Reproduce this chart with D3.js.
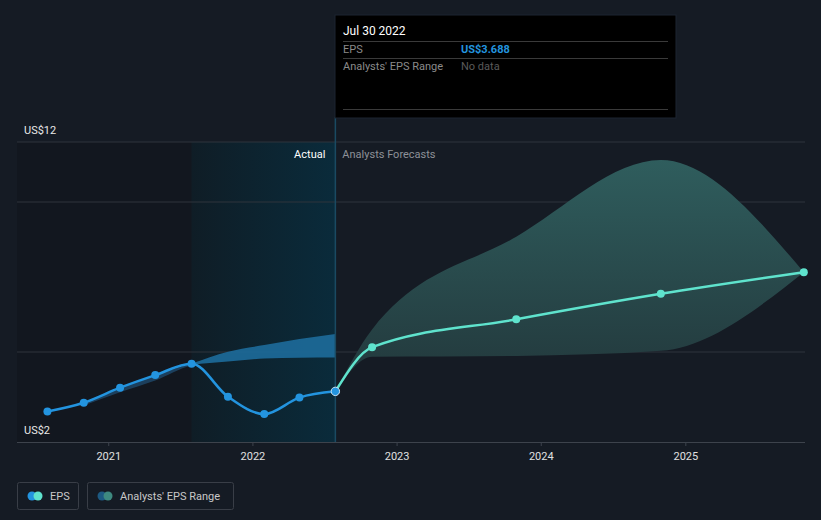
<!DOCTYPE html>
<html>
<head>
<meta charset="utf-8">
<script src="https://cdn.jsdelivr.net/npm/d3@7"></script>
<style>
  body { margin: 0; background: #151b24; }
  svg { display: block; font-family: Roboto, "Noto Sans", sans-serif; }
</style>
</head>
<body>
<div id="chart"></div>
<script>
// actual EPS (quarterly, trailing)
var actualDates = ["2020-07-31","2020-10-31","2021-01-31","2021-04-30","2021-07-31","2021-10-31","2022-01-31","2022-04-30","2022-07-30"];
var actualEps   = [3.02, 3.31, 3.81, 4.23, 4.61, 3.51, 2.93, 3.48, 3.688];

// past analyst range
var pastRangeDates = ["2020-10-31","2021-01-31","2021-04-30","2021-07-31","2021-10-31","2022-01-31","2022-04-30","2022-07-30"];
var pastRangeLow   = [3.22, 3.66, 4.05, 4.55, 4.68, 4.78, 4.81, 4.82];
var pastRangeHigh  = [3.31, 3.81, 4.23, 4.62, 5.01, 5.23, 5.43, 5.60];

// analyst forecasts
var fcDates = ["2022-07-30","2022-10-31","2023-10-31","2024-10-31","2025-10-28"];
var fcEps   = [3.688, 5.16, 6.09, 6.94, 7.66];
var fcLow   = [3.688, 4.84, 4.87, 5.04, 7.66];
var fcHigh  = [3.688, 5.75, 8.84, 11.4, 7.66];

var yTickLabels = [{v: 12, t: "US$12"}, {v: 2, t: "US$2"}];
var gridValues = [12, 10, 5];
var yearTicks = ["2021-01-01","2022-01-01","2023-01-01","2024-01-01","2025-01-01"];

var W = 821, H = 520;
var parse = d3.timeParse("%Y-%m-%d");

var x = d3.scaleTime()
  .domain([parse("2020-05-15"), parse("2025-10-31")])
  .range([17, 805]);
var y = d3.scaleLinear().domain([2, 12]).range([442, 142]);

var svg = d3.select("#chart").append("svg")
  .attr("width", W).attr("height", H);

svg.append("rect").attr("width", W).attr("height", H).attr("fill", "#151b24");

var defs = svg.append("defs");
var hl = defs.append("linearGradient").attr("id", "hl").attr("x1", 0).attr("x2", 1).attr("y1", 0).attr("y2", 0);
hl.append("stop").attr("offset", "0%").attr("stop-color", "#0f1d26");
hl.append("stop").attr("offset", "100%").attr("stop-color", "#0a2b3b");

var fg = defs.append("linearGradient").attr("id", "fg").attr("x1", 0).attr("x2", 0).attr("y1", 0).attr("y2", 1);
fg.append("stop").attr("offset", "0%").attr("stop-color", "#2f5d5d");
fg.append("stop").attr("offset", "100%").attr("stop-color", "#22373b");

var lastActual = parse(actualDates[actualDates.length - 1]);
var yearBack = parse("2021-07-31");

// dark past region + highlighted last year
svg.append("rect")
  .attr("x", x.range()[0]).attr("y", y(12))
  .attr("width", x(yearBack) - x.range()[0]).attr("height", y(2) - y(12))
  .attr("fill", "#12171f");
svg.append("rect")
  .attr("x", x(yearBack)).attr("y", y(12))
  .attr("width", x(lastActual) - x(yearBack)).attr("height", y(2) - y(12))
  .attr("fill", "url(#hl)");

defs.append("clipPath").attr("id", "hlclip").append("rect")
  .attr("x", x(yearBack)).attr("y", 0)
  .attr("width", x(lastActual) - x(yearBack)).attr("height", H);
defs.append("clipPath").attr("id", "oldclip").append("rect")
  .attr("x", 0).attr("y", 0)
  .attr("width", x(yearBack)).attr("height", H);

// grid
svg.selectAll(".grid").data(gridValues).enter().append("line")
  .attr("x1", 17).attr("x2", 805)
  .attr("y1", function(d){ return y(d); }).attr("y2", function(d){ return y(d); })
  .attr("stroke", "#2e343d").attr("stroke-width", 1);

// past range band
var pastRange = pastRangeDates.map(function(d, i){ return {d: parse(d), lo: pastRangeLow[i], hi: pastRangeHigh[i]}; });
var bandArea = d3.area().curve(d3.curveMonotoneX)
  .x(function(d){ return x(d.d); })
  .y0(function(d){ return y(d.lo); })
  .y1(function(d){ return y(d.hi); });
svg.append("path").datum(pastRange).attr("d", bandArea)
  .attr("fill", "#1f4a6b").attr("opacity", 0.8).attr("clip-path", "url(#oldclip)");
svg.append("path").datum(pastRange).attr("d", bandArea)
  .attr("fill", "#1d6b9b").attr("opacity", 0.9).attr("clip-path", "url(#hlclip)");

// forecast band
var fc = fcDates.map(function(d, i){ return {d: parse(d), v: fcEps[i], lo: fcLow[i], hi: fcHigh[i]}; });
svg.append("path").datum(fc)
  .attr("d", d3.area().curve(d3.curveMonotoneX)
    .x(function(d){ return x(d.d); })
    .y0(function(d){ return y(d.lo); })
    .y1(function(d){ return y(d.hi); }))
  .attr("fill", "url(#fg)");

// vertical marker
svg.append("line")
  .attr("x1", x(lastActual)).attr("x2", x(lastActual))
  .attr("y1", 117).attr("y2", 442)
  .attr("stroke", "#1a4a62").attr("stroke-width", 1.5);

// x axis
var xAxis = d3.axisBottom(x)
  .tickValues(yearTicks.map(parse))
  .tickFormat(d3.timeFormat("%Y"))
  .tickSize(4).tickPadding(6);
var gx = svg.append("g").attr("transform", "translate(0,442)").call(xAxis);
gx.select(".domain").attr("stroke", "#3d434c").attr("d", "M17,0.5H805");
gx.selectAll(".tick line").attr("stroke", "#3d434c");
gx.selectAll("text").attr("fill", "#e0e0e0").attr("font-size", 11)
  .attr("font-family", "Roboto, sans-serif");

// y labels
svg.selectAll(".ylab").data(yTickLabels).enter().append("text")
  .attr("x", 24).attr("y", function(d){ return y(d.v) - 8; })
  .attr("fill", "#e8e8e8").attr("font-size", 11)
  .text(function(d){ return d.t; });

// lines
var actual = actualDates.map(function(d, i){ return {d: parse(d), v: actualEps[i]}; });
var line = d3.line().curve(d3.curveMonotoneX)
  .x(function(d){ return x(d.d); })
  .y(function(d){ return y(d.v); });

svg.append("path").datum(fc).attr("d", line)
  .attr("fill", "none").attr("stroke", "#5fe3cd").attr("stroke-width", 2.5);
svg.selectAll(".fcdot").data(fc.slice(1)).enter().append("circle")
  .attr("cx", function(d){ return x(d.d); }).attr("cy", function(d){ return y(d.v); })
  .attr("r", 4).attr("fill", "#5fe3cd");

svg.append("path").datum(actual).attr("d", line)
  .attr("fill", "none").attr("stroke", "#2394df").attr("stroke-width", 2.5);
svg.selectAll(".acdot").data(actual.slice(0, -1)).enter().append("circle")
  .attr("cx", function(d){ return x(d.d); }).attr("cy", function(d){ return y(d.v); })
  .attr("r", 4).attr("fill", "#2394df");
var la = actual[actual.length - 1];
svg.append("circle").attr("cx", x(la.d)).attr("cy", y(la.v)).attr("r", 4.2)
  .attr("fill", "#2394df").attr("stroke", "#cfe6f5").attr("stroke-width", 1);

// Actual / Forecast labels
svg.append("text").attr("x", x(lastActual) - 10).attr("y", 158)
  .attr("text-anchor", "end").attr("fill", "#ffffff").attr("font-size", 11).text("Actual");
svg.append("text").attr("x", x(lastActual) + 7).attr("y", 158)
  .attr("fill", "#8d9198").attr("font-size", 11).text("Analysts Forecasts");

// tooltip
var tt = svg.append("g").attr("transform", "translate(335,15)");
tt.append("rect").attr("width", 341).attr("height", 103).attr("fill", "#000000")
  .attr("stroke", "#1c2530").attr("stroke-width", 1);
tt.append("text").attr("x", 8).attr("y", 20).attr("fill", "#ffffff").attr("font-size", 12)
  .text(d3.timeFormat("%b %d %Y")(lastActual));
[26, 43, 94].forEach(function(yy){
  tt.append("line").attr("x1", 8).attr("x2", 333).attr("y1", yy + 0.5).attr("y2", yy + 0.5)
    .attr("stroke", "#3a3a3a");
});
tt.append("text").attr("x", 8).attr("y", 38).attr("fill", "#8a8a8a").attr("font-size", 11).text("EPS");
tt.append("text").attr("x", 126).attr("y", 38).attr("fill", "#2394df").attr("font-size", 11)
  .attr("font-weight", "bold").text("US$" + d3.format(".3f")(la.v));
tt.append("text").attr("x", 8).attr("y", 55).attr("fill", "#8a8a8a").attr("font-size", 11).text("Analysts' EPS Range");
tt.append("text").attr("x", 126).attr("y", 55).attr("fill", "#5a5a5a").attr("font-size", 11).text("No data");

// legend
var legend = [
  {label: "EPS", c1: "#2394df", c2: "#5fe3cd", x: 17, w: 61},
  {label: "Analysts' EPS Range", c1: "#1d5a82", c2: "#3e8a80", x: 87, w: 146}
];
var lg = svg.selectAll(".lg").data(legend).enter().append("g")
  .attr("transform", function(d){ return "translate(" + d.x + ",482)"; });
lg.append("rect").attr("x", 0.5).attr("y", 0.5).attr("width", function(d){ return d.w; }).attr("height", 27)
  .attr("rx", 2).attr("fill", "none").attr("stroke", "#393e47");
lg.append("circle").attr("cx", 15).attr("cy", 14).attr("r", 4.5).attr("fill", function(d){ return d.c1; });
lg.append("circle").attr("cx", 21).attr("cy", 14).attr("r", 4.5).attr("fill", function(d){ return d.c2; });
lg.append("text").attr("x", 33).attr("y", 18).attr("fill", "#c8c8c8").attr("font-size", 11)
  .text(function(d){ return d.label; });
</script>
</body>
</html>
